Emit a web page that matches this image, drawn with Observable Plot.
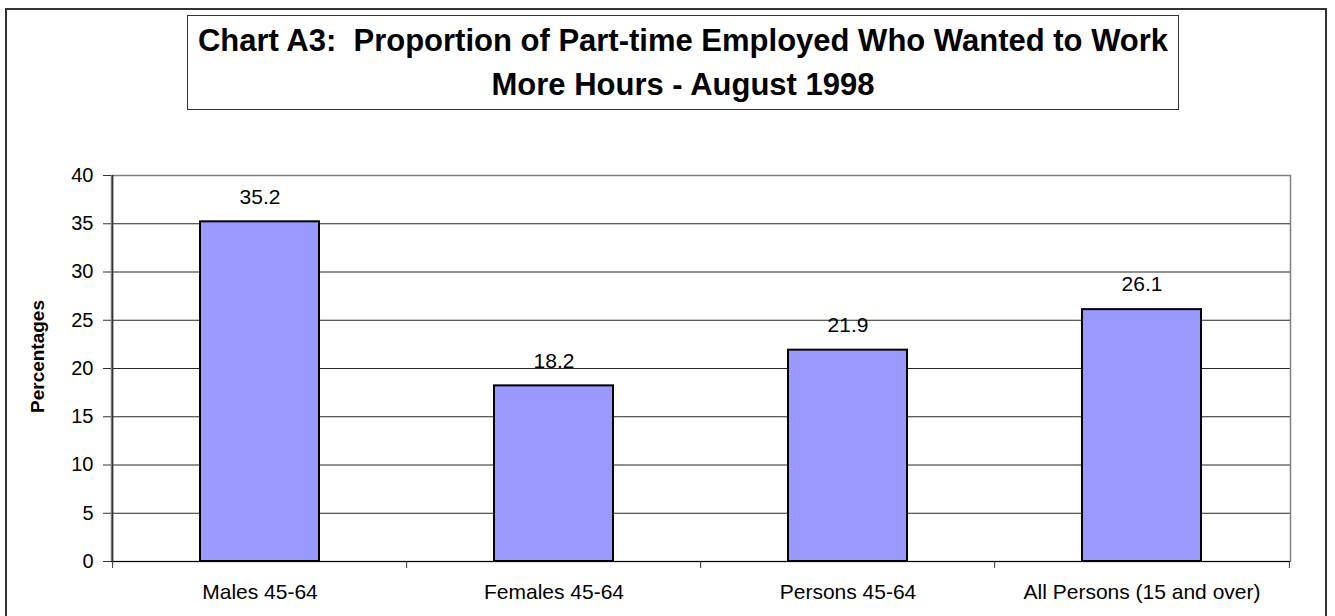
<!DOCTYPE html>
<html>
<head>
<meta charset="utf-8">
<script src="https://cdn.jsdelivr.net/npm/d3@7"></script>
<script src="https://cdn.jsdelivr.net/npm/@observablehq/plot@0.6"></script>
<style>
html, body { margin: 0; padding: 0; background: #fff; overflow: hidden; }
#wrap { position: relative; width: 1335px; height: 616px; font-family: "Liberation Sans", Arial, sans-serif; }
#chart { position: absolute; left: 0; top: 0; }
#frame { position: absolute; left: 5px; top: 8px; width: 1322px; height: 700px; box-sizing: border-box; border: 2px solid #333; pointer-events: none; }
#title { position: absolute; left: 187px; top: 15px; width: 992px; height: 95px; box-sizing: border-box; border: 1px solid #333; background: #fff;
  text-align: center; font-weight: bold; font-size: 31px; line-height: 44px; padding-top: 3px; white-space: pre; color: #000; }
</style>
</head>
<body>
<div id="wrap">
  <div id="chart"></div>
  <div id="frame"></div>
  <div id="title"></div>
</div>
<script>
// ---- data ----
const categories = ["Males 45-64", "Females 45-64", "Persons 45-64", "All Persons (15 and over)"];
const values = [35.2, 18.2, 21.9, 26.1];
const yTicks = [0, 5, 10, 15, 20, 25, 30, 35, 40];
const yLabel = "Percentages";
const titleLines = ["Chart A3:  Proportion of Part-time Employed Who Wanted to Work", "More Hours - August 1998"];

// ---- layout ----
const W = 1335, H = 616, mL = 111, mR = 45, mT = 175, mB = 55;
const step = (W - mL - mR) / categories.length;
const data = categories.map((c, i) => ({category: c, value: values[i]}));

document.getElementById("title").textContent = titleLines.join("\n");

const plot = Plot.plot({
  width: W, height: H,
  marginLeft: mL, marginRight: mR, marginTop: mT, marginBottom: mB,
  style: {fontFamily: '"Liberation Sans", Arial, sans-serif', fontSize: "21px", color: "#000", background: "transparent", overflow: "visible"},
  x: {domain: categories, paddingInner: 0.596, paddingOuter: 0.298, label: null},
  y: {domain: [0, 40], label: null},
  marks: [
    Plot.gridY(yTicks.filter(t => t > 0 && t < 40), {stroke: "#000", strokeOpacity: 0.85}),
    Plot.frame({stroke: "#808080", strokeWidth: 1.5}),
    Plot.barY(data, {x: "category", y: "value", fill: "#9999FF", stroke: "#000", strokeWidth: 2}),
    Plot.ruleY([0], {stroke: "#000", strokeWidth: 1.2}),
    Plot.ruleX([categories[0]], {x: d => d, dx: -step / 2, stroke: "#333", strokeWidth: 1.5}),
    Plot.axisY({ticks: yTicks, tickSize: 8, tickPadding: 10, fontSize: 20, label: null, stroke: "#333"}),
    Plot.axisX({ticks: categories, tickSize: 7, tickFormat: () => "", dx: -step / 2, label: null, stroke: "#333"}),
    Plot.axisX({ticks: [categories[categories.length - 1]], tickSize: 7, tickFormat: () => "", dx: step / 2, label: null, stroke: "#333"}),
    Plot.axisX({ticks: categories, tickSize: 0, tickPadding: 23, fontSize: 21, label: null}),
    Plot.text(data, {x: "category", y: "value", text: d => d.value.toFixed(1), dy: -25, fontSize: 21, fill: "#000"}),
    Plot.text([yLabel], {text: d => d, frameAnchor: "left", textAnchor: "middle", rotate: -90, dx: -(mL - 37), dy: -12, fontWeight: "bold", fontSize: 19, fill: "#000"})
  ]
});
document.getElementById("chart").appendChild(plot);
</script>
</body>
</html>
